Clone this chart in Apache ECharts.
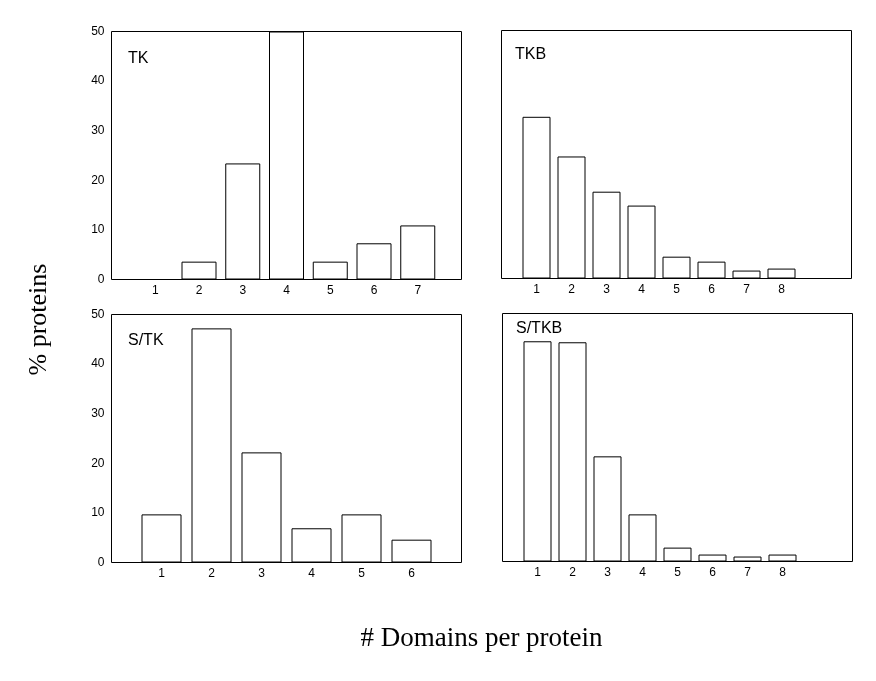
<!DOCTYPE html>
<html>
<head>
<meta charset="utf-8">
<script src="https://cdn.jsdelivr.net/npm/echarts@6/dist/echarts.min.js"></script>
<style>
html,body{margin:0;padding:0;background:#fff;}
#chart{width:876px;height:681px;}
</style>
</head>
<body>
<div id="chart"></div>
<script>
// Panel data (% proteins by number of domains per protein)
const tkDomains = [1, 2, 3, 4, 5, 6, 7];
const tkValues = [0, 3.6, 23.4, 50, 3.6, 7.3, 10.9];

const tkbDomains = [1, 2, 3, 4, 5, 6, 7, 8];
const tkbValues = [32.6, 24.6, 17.5, 14.7, 4.4, 3.4, 1.6, 2.0];

const stkDomains = [1, 2, 3, 4, 5, 6];
const stkValues = [9.7, 47.2, 22.2, 6.9, 9.7, 4.6];

const stkbDomains = [1, 2, 3, 4, 5, 6, 7, 8];
const stkbValues = [44.4, 44.2, 21.2, 9.5, 2.8, 1.4, 1.0, 1.4];

const yTickLabels = [0, 10, 20, 30, 40, 50];
const panelNames = ['TK', 'TKB', 'S/TK', 'S/TKB'];
const yTitle = '% proteins';
const xTitle = '# Domains per protein';

const panels = [
  { name: panelNames[0], x: tkDomains, y: tkValues, xMax: 8, grid: { left: 111.5, top: 31.5, width: 350, height: 248 }, barWidth: 35, yLabels: true, label: [128, 59] },
  { name: panelNames[1], x: tkbDomains, y: tkbValues, xMax: 10, grid: { left: 501.5, top: 30.5, width: 350, height: 248 }, barWidth: 28, yLabels: false, label: [515, 55] },
  { name: panelNames[2], x: stkDomains, y: stkValues, xMax: 7, grid: { left: 111.5, top: 314.5, width: 350, height: 248 }, barWidth: 40, yLabels: true, label: [128, 340.5] },
  { name: panelNames[3], x: stkbDomains, y: stkbValues, xMax: 10, grid: { left: 502.5, top: 313.5, width: 350, height: 248 }, barWidth: 28, yLabels: false, label: [516, 329] }
];

const sansFont = 'Liberation Sans, Arial, Helvetica, sans-serif';
const serifFont = 'Liberation Serif, Times New Roman, serif';
const yMin = yTickLabels[0];
const yMax = yTickLabels[yTickLabels.length - 1];
const yStep = yTickLabels[1] - yTickLabels[0];

const grids = [], xAxes = [], yAxes = [], series = [], graphics = [];
panels.forEach((p, i) => {
  grids.push(Object.assign({ show: true, borderColor: '#000', borderWidth: 1, backgroundColor: 'transparent' }, p.grid));
  const nMax = p.x[p.x.length - 1];
  xAxes.push({
    gridIndex: i, type: 'value', min: 0, max: p.xMax, interval: 1,
    axisLine: { show: false }, axisTick: { show: false }, splitLine: { show: false },
    axisLabel: {
      show: true, color: '#000', fontSize: 12, fontFamily: sansFont, margin: 5,
      formatter: v => (v >= 1 && v <= nMax) ? String(v) : ''
    }
  });
  yAxes.push({
    gridIndex: i, type: 'value', min: yMin, max: yMax, interval: yStep,
    axisLine: { show: false }, axisTick: { show: false }, splitLine: { show: false },
    axisLabel: { show: p.yLabels, color: '#000', fontSize: 12, fontFamily: sansFont, margin: 7 }
  });
  series.push({
    type: 'bar', xAxisIndex: i, yAxisIndex: i, barWidth: p.barWidth,
    data: p.x.map((d, k) => [d, p.y[k]]),
    itemStyle: { color: '#fff', borderColor: '#000', borderWidth: 1 },
    silent: true, animation: false
  });
  graphics.push({
    type: 'text', x: p.label[0], y: p.label[1],
    style: { text: p.name, font: '16px ' + sansFont, fill: '#000', textAlign: 'left', textVerticalAlign: 'middle' }
  });
});

graphics.push({
  type: 'text', x: 39, y: 319.5, rotation: Math.PI / 2,
  style: { text: yTitle, font: '26px ' + serifFont, fill: '#000', textAlign: 'center', textVerticalAlign: 'middle' }
});
graphics.push({
  type: 'text', x: 481.5, y: 639, 
  style: { text: xTitle, font: '27px ' + serifFont, fill: '#000', textAlign: 'center', textVerticalAlign: 'middle' }
});

const chart = echarts.init(document.getElementById('chart'), null, { renderer: 'canvas' });
chart.setOption({
  backgroundColor: '#fff',
  animation: false,
  grid: grids,
  xAxis: xAxes,
  yAxis: yAxes,
  series: series,
  graphic: graphics
});
</script>
</body>
</html>
